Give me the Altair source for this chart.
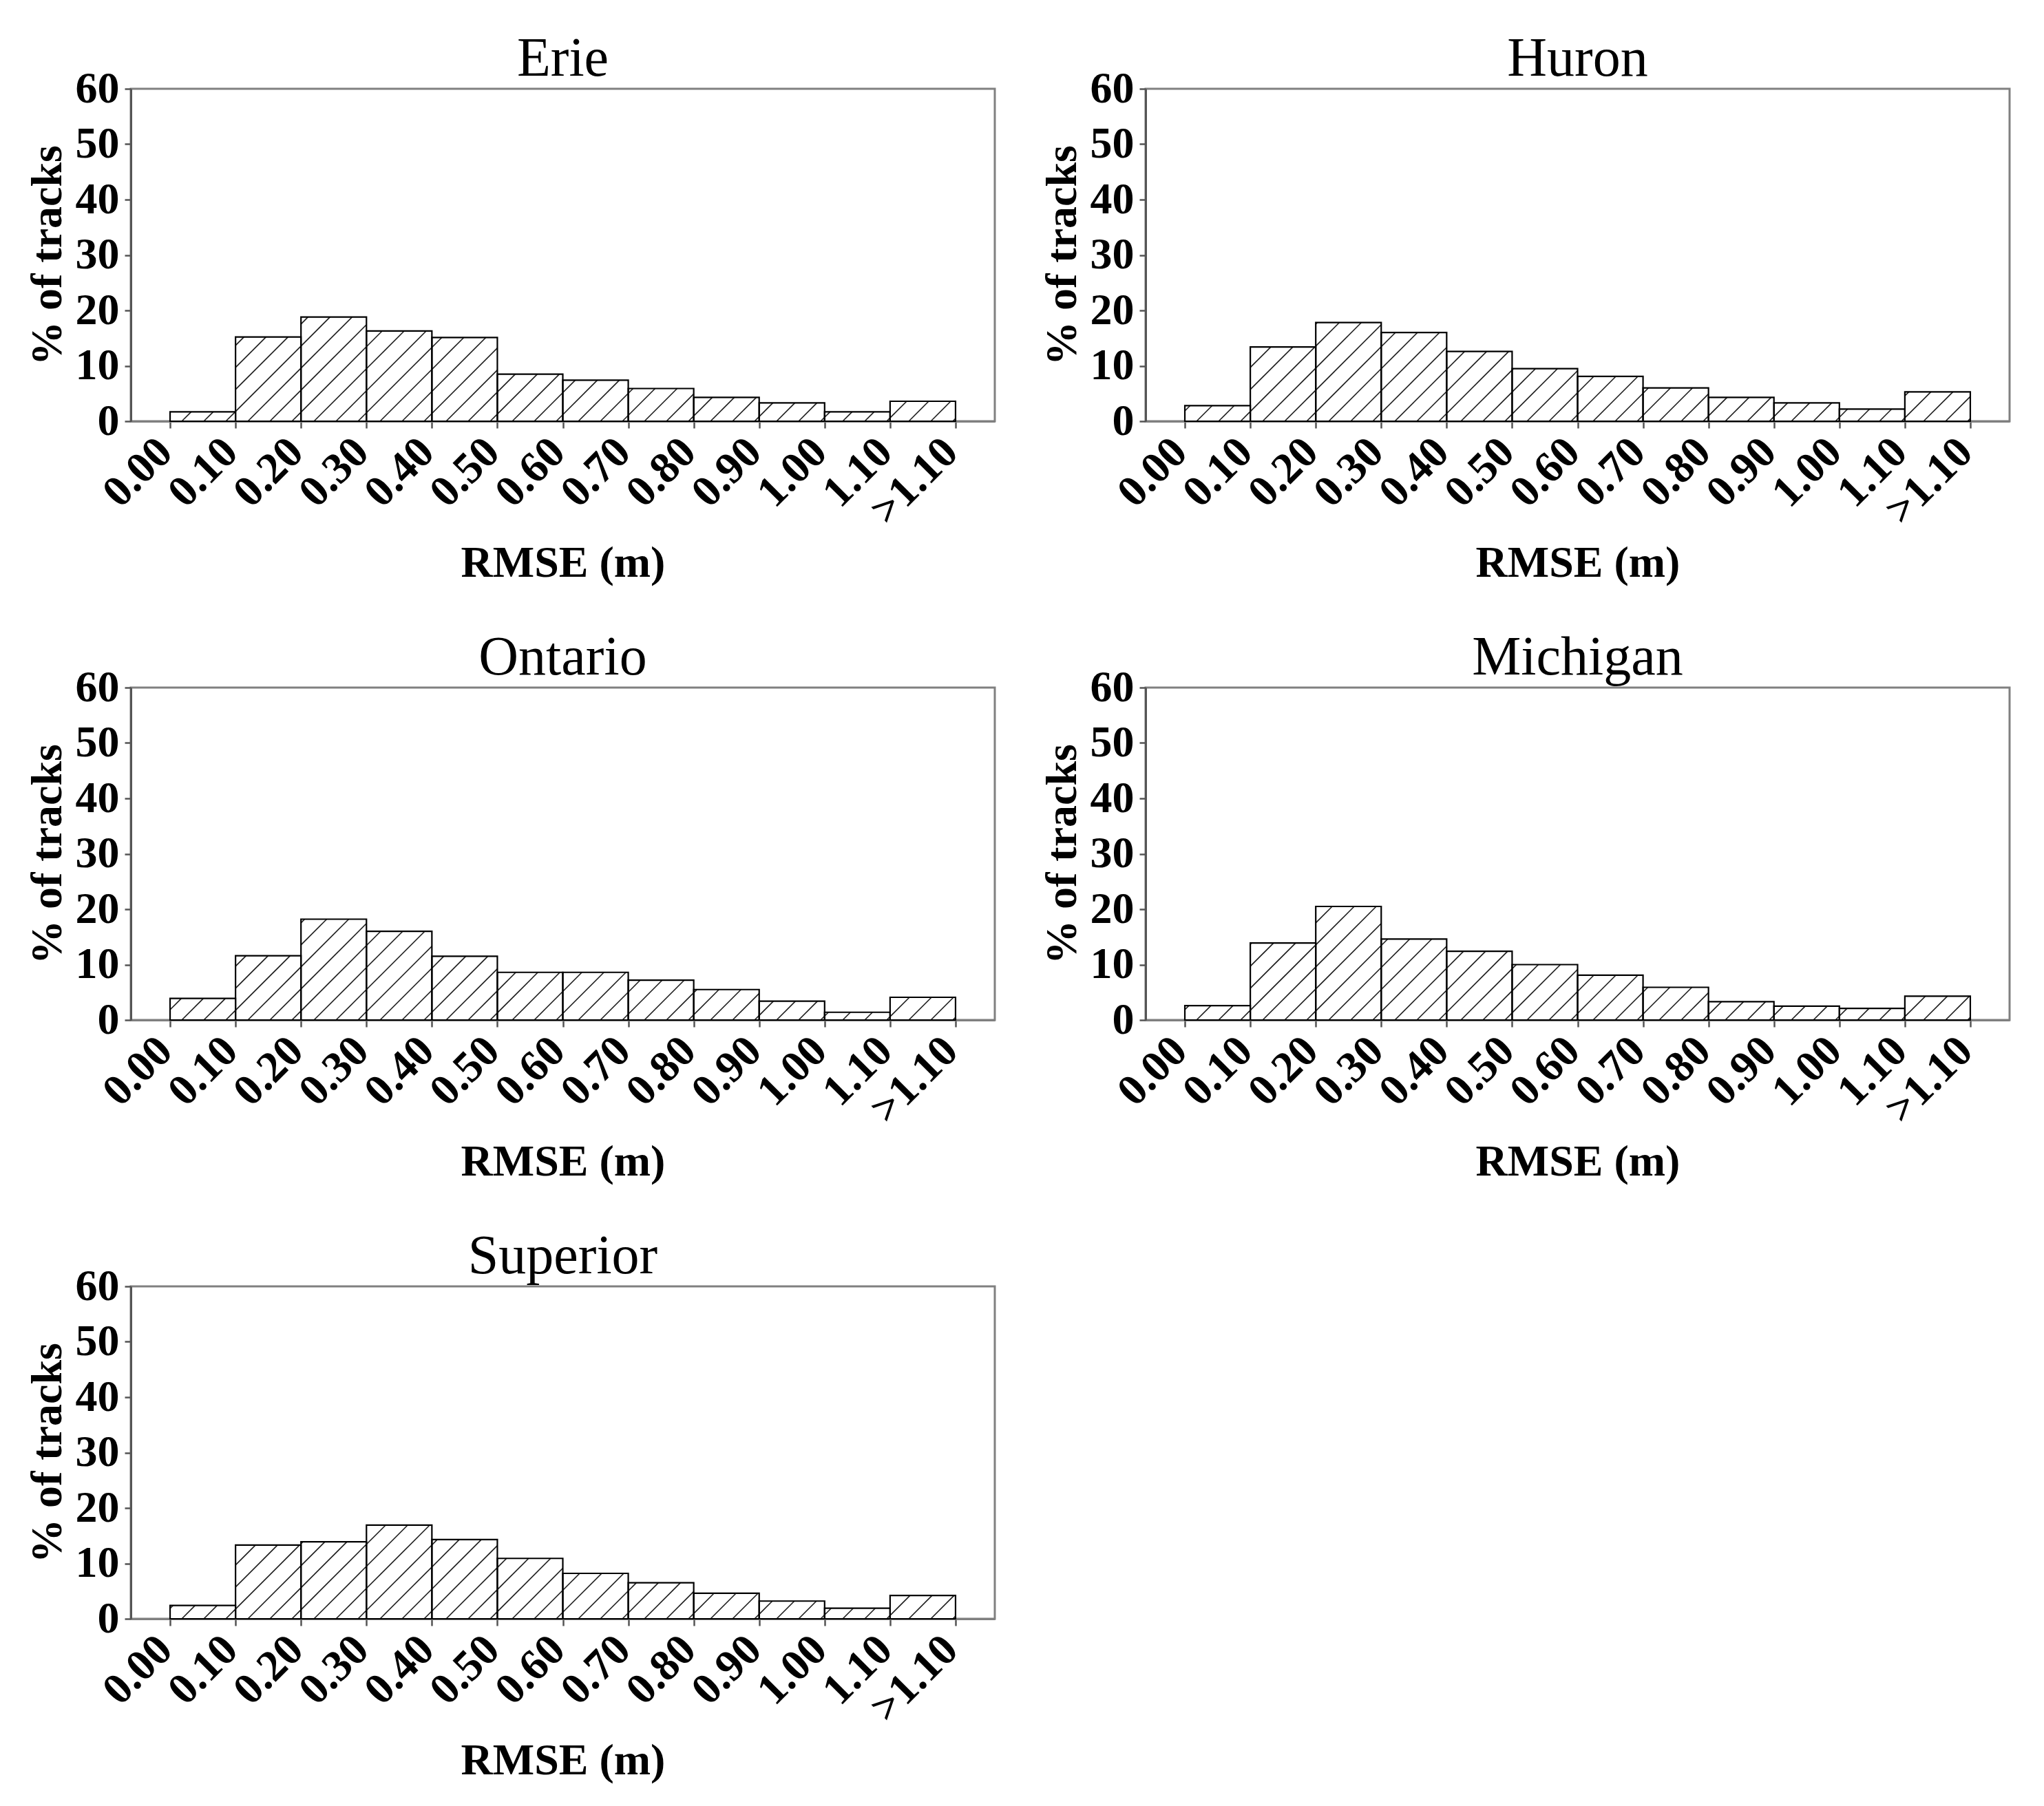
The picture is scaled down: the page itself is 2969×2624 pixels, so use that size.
import altair as alt
import pandas as pd

# ---- data ----
lakes = ["Erie", "Huron", "Ontario", "Michigan", "Superior"]
tick_labels = ["0.00", "0.10", "0.20", "0.30", "0.40", "0.50", "0.60",
               "0.70", "0.80", "0.90", "1.00", "1.10", ">1.10"]
erie = [1.7, 15.2, 18.8, 16.3, 15.1, 8.5, 7.4, 5.9, 4.3, 3.3, 1.7, 3.6]
huron = [2.8, 13.4, 17.8, 16.0, 12.6, 9.5, 8.1, 6.0, 4.3, 3.3, 2.2, 5.3]
ontario = [3.9, 11.6, 18.2, 16.0, 11.5, 8.6, 8.6, 7.2, 5.5, 3.4, 1.4, 4.1]
michigan = [2.6, 13.9, 20.5, 14.6, 12.4, 10.0, 8.1, 5.9, 3.3, 2.5, 2.1, 4.3]
superior = [2.4, 13.3, 13.9, 16.9, 14.3, 10.9, 8.2, 6.5, 4.6, 3.2, 1.9, 4.2]
series = {"Erie": erie, "Huron": huron, "Ontario": ontario,
          "Michigan": michigan, "Superior": superior}

# ---- layout / style ----
W, H = 1255, 483
XMIN, XMAX = -0.6, 12.6
YMAX = 60
FONT = "Liberation Serif"
HATCH_SP = 32.0      # px between hatch lines (horizontal)
HATCH_PHASE = 17.0

bx = W / (XMAX - XMIN)   # px per bin
py = H / YMAX            # px per percent

label_expr = "[" + ",".join("'%s'" % t for t in tick_labels) + "][datum.value]"

xscale = alt.Scale(domain=[XMIN, XMAX], nice=False, zero=False)
yscale = alt.Scale(domain=[0, YMAX], nice=False)

xaxis = alt.Axis(values=list(range(len(tick_labels))), labelExpr=label_expr,
                 labelAngle=-45, labelFont=FONT, labelFontSize=64,
                 labelFontWeight="bold", labelColor="black", labelPadding=2,
                 labelOffset=-30,
                 title="RMSE (m)", titleFont=FONT, titleFontSize=64,
                 titleFontWeight="bold", titleColor="black", titlePadding=12,
                 grid=False, tickSize=10, tickColor="#555555", tickWidth=2.5,
                 domainColor="#7f7f7f", domainWidth=3, labelOverlap=False)
yaxis = alt.Axis(values=list(range(0, 61, 10)), labelFont=FONT,
                 labelFontSize=64, labelFontWeight="bold", labelColor="black",
                 labelPadding=8, title="% of tracks", titleFont=FONT,
                 titleFontSize=64, titleFontWeight="bold", titleColor="black",
                 titlePadding=8, grid=False, tickSize=9, tickColor="#555555",
                 tickWidth=2.5, domainColor="#555555", domainWidth=3)


def hatch_rows(vals):
    rows = []
    for i, v in enumerate(vals):
        x0, x1 = i * bx, (i + 1) * bx
        h = v * py
        k = int((x0 - h - HATCH_PHASE) // HATCH_SP) - 1
        while True:
            c = HATCH_PHASE + k * HATCH_SP
            k += 1
            if c > x1:
                break
            # line: X - Y = c
            if c >= x0:
                sx, sy = c, 0.0
            else:
                sx, sy = x0, x0 - c
            if x1 - c <= h:
                ex, ey = x1, x1 - c
            else:
                ex, ey = c + h, h
            if sy > h or ex < sx or ey - sy < 1.0:
                continue
            rows.append({"hx": sx / bx, "hy": sy / py,
                         "hx2": ex / bx, "hy2": ey / py})
    return pd.DataFrame(rows)


def panel(name):
    vals = series[name]
    bars = pd.DataFrame({"x": list(range(len(vals))),
                         "x2": [i + 1 for i in range(len(vals))],
                         "pct": vals})
    base = alt.Chart(bars)
    fill = base.mark_rect(fill="white", stroke=None).encode(
        x=alt.X("x:Q", scale=xscale, axis=xaxis),
        x2="x2:Q",
        y=alt.Y("pct:Q", scale=yscale, axis=yaxis),
        y2=alt.datum(0),
    )
    hatch = alt.Chart(hatch_rows(vals)).mark_rule(
        color="#1a1a1a", strokeWidth=1.6).encode(
        x=alt.X("hx:Q", scale=xscale),
        x2="hx2:Q",
        y=alt.Y("hy:Q", scale=yscale),
        y2="hy2:Q",
    )
    outline = base.mark_rect(fill=None, stroke="black", strokeWidth=2.2).encode(
        x=alt.X("x:Q", scale=xscale),
        x2="x2:Q",
        y=alt.Y("pct:Q", scale=yscale),
        y2=alt.datum(0),
    )
    return alt.layer(fill, hatch, outline).properties(
        width=W, height=H,
        title=alt.TitleParams(name, font=FONT, fontSize=80, frame="group",
                              fontWeight="normal", color="black", offset=-30),
    )


row1 = alt.hconcat(panel("Erie"), panel("Huron"), spacing=62)
row2 = alt.hconcat(panel("Ontario"), panel("Michigan"), spacing=62)
row3 = alt.hconcat(panel("Superior"), spacing=62)

chart = alt.vconcat(row1, row2, row3, spacing=62).properties(
    padding={"left": 27, "top": 36, "right": 5, "bottom": 5},
    background="white",
).configure_view(stroke="#808080", strokeWidth=3)

chart.save("out.html", embed_options={"renderer": "svg", "actions": False})
